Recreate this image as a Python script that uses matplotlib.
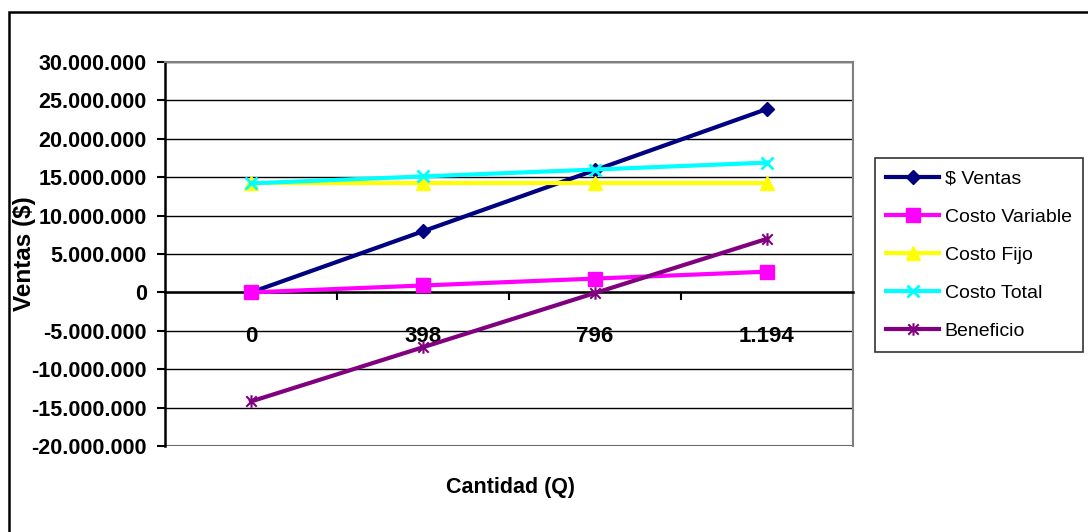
import matplotlib.pyplot as plt
from matplotlib.patches import Rectangle
from matplotlib.path import Path
from matplotlib.ticker import FuncFormatter

plt.rcParams['font.family'] = ['Liberation Sans', 'DejaVu Sans']

# datos del punto de equilibrio
cantidades = ['0', '398', '796', '1.194']
ventas = [0, 7960000, 15920000, 23880000]
costo_variable = [0, 900000, 1800000, 2700000]
costo_fijo = [14200000, 14200000, 14200000, 14200000]
costo_total = [14200000, 15100000, 16000000, 16900000]
beneficio = [-14200000, -7140000, -80000, 6980000]

# marcador asterisco tipo Excel (x + barra vertical)
asterisco = Path([(-1, -1), (1, 1), (-1, 1), (1, -1), (0, -1.2), (0, 1.2)],
                 [Path.MOVETO, Path.LINETO, Path.MOVETO, Path.LINETO, Path.MOVETO, Path.LINETO])

fig = plt.figure(figsize=(10.88, 5.32), dpi=100)
ax = fig.add_axes([165 / 1088, 1 - 446 / 532, (853 - 165) / 1088, (446 - 62) / 532])

x = range(len(cantidades))
lw = 3
ax.plot(x, ventas, color='#000080', lw=lw, marker='D', ms=7, label='$ Ventas', zorder=5)
ax.plot(x, costo_variable, color='#FF00FF', lw=lw, marker='s', ms=10, label='Costo Variable', zorder=5)
ax.plot(x, costo_fijo, color='#FFFF00', lw=lw, marker='^', ms=10, label='Costo Fijo', zorder=5)
ax.plot(x, costo_total, color='#00FFFF', lw=lw, marker='x', ms=9, mew=2, label='Costo Total', zorder=5)
ax.plot(x, beneficio, color='#800080', lw=lw, marker=asterisco, ms=9, mew=1.5, label='Beneficio', zorder=5)

ax.set_xlim(-0.5, 3.5)
ax.set_ylim(-20000000, 30000000)
ax.set_yticks(range(-20000000, 30000001, 5000000))
ax.yaxis.set_major_formatter(FuncFormatter(lambda v, p: f'{int(v):,}'.replace(',', '.')))
ax.set_xticks(list(x))
ax.set_xticklabels(cantidades)
ax.set_xticks([0.5, 1.5, 2.5], minor=True)

ax.grid(axis='y', color='black', lw=1)
ax.set_axisbelow(True)

# bordes estilo Excel
ax.spines['bottom'].set_position(('data', 0))
ax.spines['bottom'].set_linewidth(1.8)
ax.spines['left'].set_linewidth(1.8)
for s in ['top', 'right']:
    ax.spines[s].set_color('#808080')
    ax.spines[s].set_linewidth(1.5)
ax.add_patch(Rectangle((0, 0), 1, 1, transform=ax.transAxes, fill=False,
                       ec='#808080', lw=1.5, zorder=0.5))

ax.tick_params(axis='y', length=6, width=1.5, labelsize=15.5, pad=7)
ax.tick_params(axis='x', which='major', length=0, labelsize=16, pad=24)
ax.tick_params(axis='x', which='minor', length=6, width=1.5, direction='out')
for t in ax.get_xticklabels() + ax.get_yticklabels():
    t.set_fontweight('bold')

ax.set_ylabel('Ventas ($)', fontsize=17.5, fontweight='bold')
ax.yaxis.set_label_coords(-0.188, 0.5)
fig.text(510 / 1088, 1 - 488 / 532, 'Cantidad (Q)', fontsize=15.5, fontweight='bold',
         ha='center', va='center')

leg = ax.legend(loc='center left', bbox_to_anchor=(865 / 1088, 1 - 255 / 532),
                bbox_transform=fig.transFigure, fontsize=14, frameon=True,
                fancybox=False, edgecolor='black', handlelength=2.7,
                labelspacing=1.06, borderpad=0.6, handletextpad=0.3)
leg.get_frame().set_linewidth(1.2)

# marco del gráfico
fig.add_artist(Rectangle((9 / 1088, -0.1), 1.2, 1 - 12 / 532 + 0.1, transform=fig.transFigure,
                         fill=False, ec='black', lw=1.8))

fig.savefig('out.png', dpi=100)
